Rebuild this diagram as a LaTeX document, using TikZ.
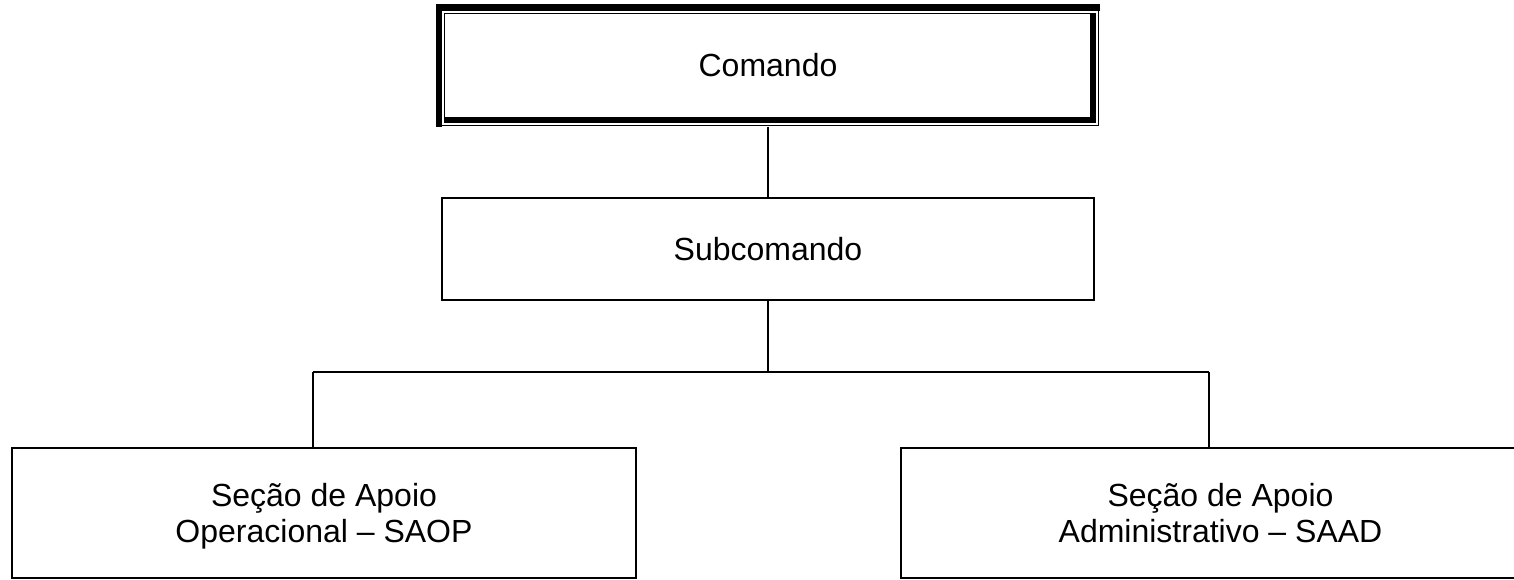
\documentclass[tikz,border=0pt]{standalone}
\usepackage{fontspec}
\setmainfont{Liberation Sans}
\usetikzlibrary{calc}
\begin{document}
\begin{tikzpicture}[x=1pt,y=-1pt,line width=2pt,
  box/.style={draw, rectangle, inner sep=0pt, align=center,
    font=\fontsize{32}{36}\selectfont},
  thinline/.style={line width=1pt},
  conn/.style={draw, line width=2pt}]
\useasboundingbox (0,0) rectangle (1514,580);
\fill[white] (0,0) rectangle (1514,580);
% boxes
\node[box, draw=none, minimum width=662pt, minimum height=121pt] (cmd) at (768,65.5) {Comando};
\node[box, minimum width=652pt, minimum height=102pt] (sub) at (768,249) {Subcomando};
\node[box, minimum width=624pt, minimum height=130pt, text depth=0pt] (saop) at (324,513) {Seção de Apoio\\Operacional – SAOP};
\node[box, minimum width=639pt, minimum height=130pt, text depth=0pt] (saad) at (1220.5,513) {Seção de Apoio\\Administrativo – SAAD};
% double border of Comando
\fill (cmd.north west) rectangle ($(cmd.north east)+(0,7)$);
\fill (cmd.north west) rectangle ($(cmd.south west)+(6,0)$);
\fill ($(cmd.north east)+(-10,9)$) rectangle ($(cmd.south east)+(-4,-4)$);
\fill ($(cmd.south west)+(8,-10)$) rectangle ($(cmd.south east)+(-4,-4)$);
\draw[thinline] ($(cmd.north east)+(-1.5,0)$) -- ($(cmd.south east)+(-1.5,-1.5)$) -- ($(cmd.south west)+(0,-1.5)$);
\draw[thinline] ($(cmd.south west)+(8.5,-10)$) -- ($(cmd.north west)+(8.5,9.5)$) -- ($(cmd.north east)+(-10,9.5)$);
% connectors
\coordinate (jl) at (313,372);
\coordinate (jr) at (1209,372);
\draw[conn] (cmd.south) -- (sub.north);
\draw[conn] (sub.south) -- (sub.south |- jl);
\draw[conn] (jl) -- (jr);
\draw[conn] (jl) -- (jl |- saop.north);
\draw[conn] (jr) -- (jr |- saad.north);
\end{tikzpicture}
\end{document}
